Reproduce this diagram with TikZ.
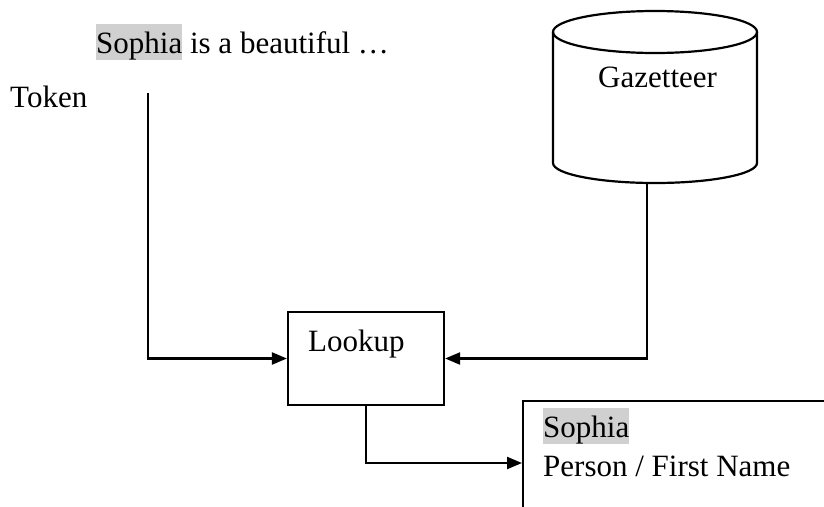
\documentclass[tikz,border=0pt]{standalone}
\usepackage{fontspec}
\setmainfont{Liberation Serif}
\usetikzlibrary{arrows.meta}
\definecolor{hlgray}{RGB}{208,208,208}
\newcommand\hlword[1]{{\setlength\fboxsep{0pt}\colorbox{hlgray}{\rule[-7pt]{0pt}{36pt}#1}}}
\tikzset{
  wire/.style={line width=2.2pt, -{Triangle[length=15pt,width=12pt]}},
  plain/.style={line width=2.2pt},
  label/.style={inner sep=0pt, anchor=base west, font=\fontsize{31}{37}\selectfont},
  procbox/.style={draw, line width=2.2pt, inner sep=0pt, minimum width=156pt, minimum height=93pt},
}
\begin{document}
\begin{tikzpicture}[x=1pt, y=-1pt]
  \useasboundingbox (0,0) rectangle (824,506);

  % input sentence and token label
  \node[label] (sent) at (96,53) {\hlword{Sophia} is a beautiful …};
  \node[label] (token) at (10,107) {Token};
  \coordinate (tokstart) at (148,93);

  % gazetteer store
  \draw[plain] (553,32) -- (553,163)
    arc[start angle=180, end angle=0, x radius=102, y radius=20]
    -- (757,32);
  \draw[plain] (655,32) ellipse[x radius=102, y radius=21];
  \node[label] (gaztext) at (598,87) {Gazetteer};
  \coordinate (gazout) at (647,183);

  % lookup step
  \node[procbox] (lookup) at (366,358.5) {};
  \node[label] (looktext) at (308,351) {Lookup};

  % result box, running off the page edge
  \begin{scope}
    \clip (0,0) rectangle (824,506);
    \node[draw, line width=2.2pt, inner sep=0pt, anchor=north west,
          minimum width=340pt, minimum height=140pt] (result) at (522,400) {};
  \end{scope}
  \node[label] (restitle) at (543,437) {\hlword{Sophia}};
  \node[label] (resclass) at (543,476) {Person / First Name};

  % connectors
  \draw[wire] (tokstart) |- (lookup.west);
  \draw[wire] (gazout) |- (lookup.east);
  \draw[wire] (lookup.south) |- (result.west |- 0,463);
\end{tikzpicture}
\end{document}
